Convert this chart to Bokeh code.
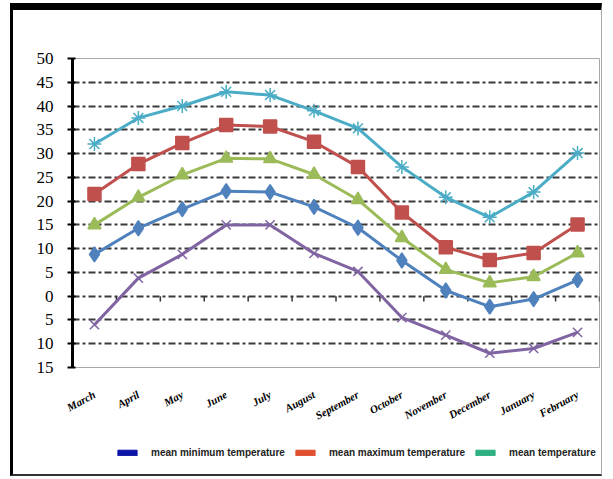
from bokeh.plotting import figure
from bokeh.layouts import column
from bokeh.models import FactorRange, Range1d, FixedTicker, Legend, LegendItem
from bokeh.embed import file_html
from bokeh.resources import INLINE

months = ["March", "April", "May", "June", "July", "August", "September",
          "October", "November", "December", "January", "February"]

absolute_max = [32, 37.5, 40, 43, 42.3, 39, 35.3, 27.2, 20.8, 16.6, 21.9, 30.1]
mean_max = [21.5, 27.8, 32.2, 36, 35.7, 32.5, 27.2, 17.6, 10.3, 7.6, 9.1, 15.1]
mean_temp = [15, 20.8, 25.5, 29, 28.9, 25.6, 20.3, 12.3, 5.6, 2.8, 4.1, 9.1]
mean_min = [8.8, 14.3, 18.3, 22.1, 21.9, 18.8, 14.4, 7.5, 1.2, -2.2, -0.6, 3.4]
absolute_min = [-6, 3.8, 8.8, 15, 15, 9, 5.2, -4.5, -8.2, -12, -11, -7.6]

y_ticks = [-15, -10, -5, 0, 5, 10, 15, 20, 25, 30, 35, 40, 45, 50]
y_tick_labels = {t: str(abs(t)) for t in y_ticks}
grid_ticks = y_ticks[1:-1]

legend_labels = ["mean minimum temperature", "mean maximum temperature", "mean temperature"]
legend_colors = ["#0c14a8", "#e0502e", "#2db07f"]

p = figure(width=592, height=430,
           x_range=FactorRange(*months), y_range=Range1d(-15, 50),
           output_backend="svg", toolbar_location=None,
           min_border_left=59, min_border_right=6,
           min_border_top=48, min_border_bottom=73)
p.styles = {"border-top": "7px solid black", "border-left": "3px solid black",
            "border-right": "1px solid #aaaaaa"}
p.background_fill_color = "white"
p.border_fill_color = "white"
p.outline_line_color = "#a8a8a8"
p.outline_line_width = 1

# y axis
p.yaxis.ticker = FixedTicker(ticks=y_ticks)
p.yaxis.major_label_overrides = y_tick_labels
p.yaxis.major_label_text_font = "Liberation Serif"
p.yaxis.major_label_text_font_size = "17px"
p.yaxis.major_label_text_color = "black"
p.yaxis.axis_line_color = "black"
p.yaxis.axis_line_width = 3
p.yaxis.major_tick_line_color = "black"
p.yaxis.major_tick_line_width = 2
p.yaxis.major_tick_out = 5
p.yaxis.major_tick_in = 3
p.yaxis.minor_tick_line_color = None
p.yaxis.major_label_standoff = 14

p.ygrid.ticker = FixedTicker(ticks=grid_ticks)
p.ygrid.grid_line_color = "#3a3a3a"
p.ygrid.grid_line_width = 1.8
p.ygrid.grid_line_dash = "7 3 3 3"
p.xgrid.grid_line_color = None

# x axis (month labels, rotated)
p.xaxis.axis_line_color = None
p.xaxis.major_tick_line_color = None
p.xaxis.major_tick_out = 0
p.xaxis.major_tick_in = 0
p.xaxis.major_label_orientation = 0.5
p.xaxis.major_label_standoff = 26
p.xaxis.major_label_text_font = "Liberation Serif"
p.xaxis.major_label_text_font_size = "11px"
p.xaxis.major_label_text_font_style = "bold italic"
p.xaxis.major_label_text_color = "black"

# small category-boundary ticks on the zero line
bounds = [(m, -0.5) for m in months[1:]] + [(months[-1], 0.5)]
p.segment(x0=bounds, y0=[0] * len(bounds), x1=bounds, y1=[-1.1] * len(bounds),
          line_color="#333333", line_width=1.5)

series = [
    (absolute_max, "#4bacc6", "asterisk", 14),
    (mean_max, "#c0504d", "square", 13),
    (mean_temp, "#9bbb59", "triangle", 13),
    (mean_min, "#4f81bd", "diamond", 15),
    (absolute_min, "#8064a2", "x", 13),
]
for vals, col, mk, sz in series:
    p.line(months, vals, line_color=col, line_width=3)
    p.scatter(months, vals, marker=mk, size=sz, fill_color=col, line_color=col, line_width=1.5)

# key strip below the chart
leg = figure(width=592, height=43, x_range=Range1d(0, 1), y_range=Range1d(0, 1),
             x_axis_type=None, y_axis_type=None, output_backend="svg",
             toolbar_location=None, min_border=0)
leg.outline_line_color = None
leg.background_fill_color = "white"
leg.border_fill_color = "white"
leg.styles = {"border-left": "3px solid black", "border-right": "1px solid #aaaaaa",
              "border-bottom": "2px solid #333333"}

off = [5]  # swatch glyphs sit outside the visible range
items = []
for lab, col in zip(legend_labels, legend_colors):
    r = leg.quad(left=off, right=off, top=off, bottom=off, fill_color=col, line_color=col)
    items.append(LegendItem(label=lab, renderers=[r]))

legend = Legend(items=items, orientation="horizontal", location=(43, 18),
                label_text_font="Liberation Sans", label_text_font_size="10px",
                label_text_font_style="bold", label_text_color="#222222",
                glyph_width=24, glyph_height=7, label_height=12,
                label_standoff=12, spacing=8, padding=0, margin=0,
                border_line_color=None, background_fill_alpha=0)
leg.add_layout(legend)

layout = column(p, leg, spacing=0)
layout.styles = {"margin-left": "10px", "margin-top": "3px"}

open("out.html", "w").write(file_html(layout, INLINE))
